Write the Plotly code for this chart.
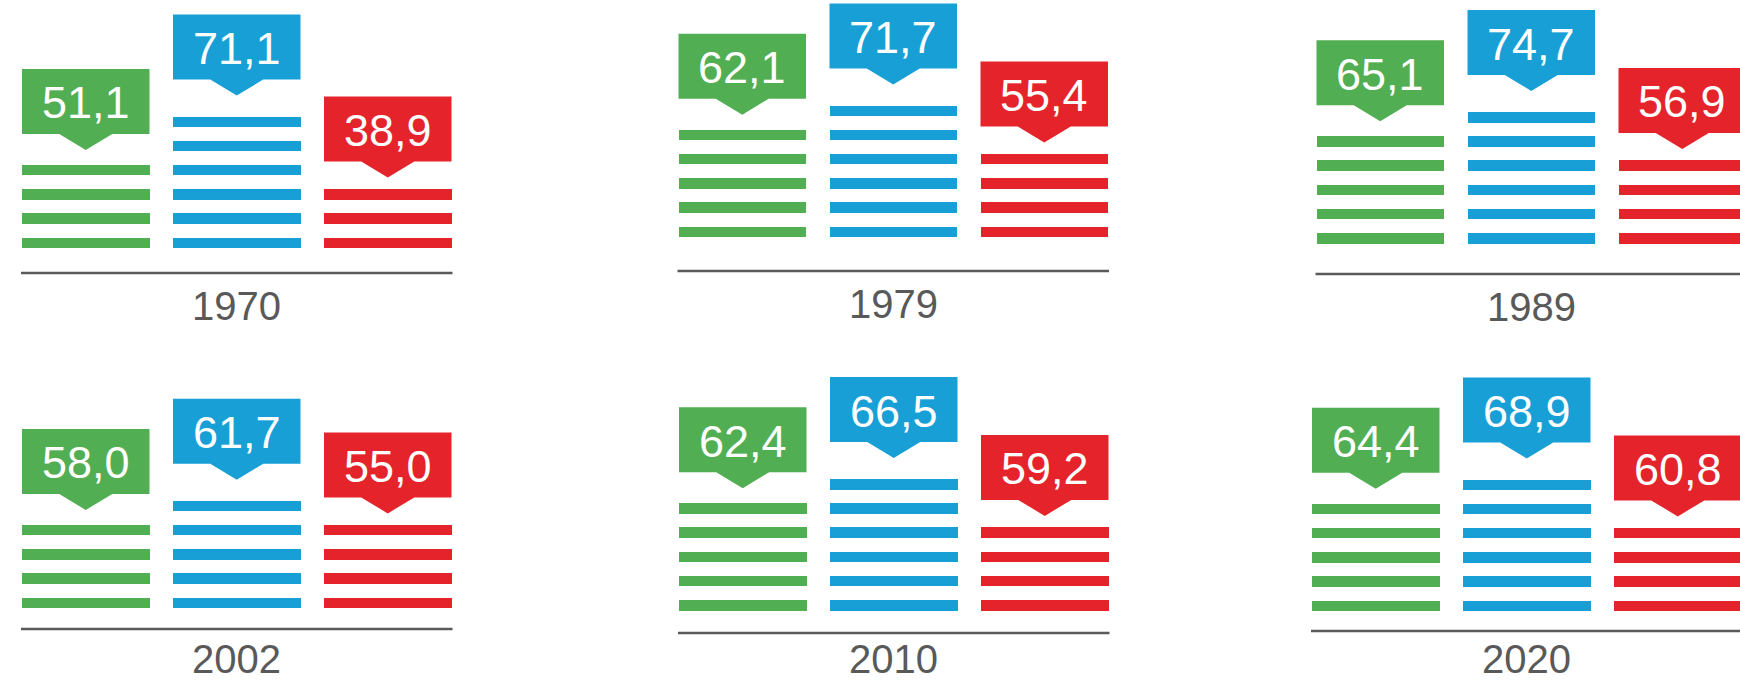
import plotly.graph_objects as go

# Values per year: green, blue, red series
years = ["1970", "1979", "1989", "2002", "2010", "2020"]
green_values = [51.1, 62.1, 65.1, 58.0, 62.4, 64.4]
blue_values = [71.1, 71.7, 74.7, 61.7, 66.5, 68.9]
red_values = [38.9, 55.4, 56.9, 55.0, 59.2, 60.8]

# Number of stripes drawn in each column
green_stripes = [4, 5, 5, 4, 5, 5]
blue_stripes = [6, 6, 6, 5, 6, 6]
red_stripes = [3, 4, 4, 4, 4, 4]

# ---- layout (page pixels) ----
W, H = 1740, 683
# per panel: left edge of first column, bottom of lowest stripe, baseline y
panels = [
    (22.0, 248.0, 273.0),
    (678.5, 237.0, 271.0),
    (1316.5, 243.5, 274.0),
    (22.0, 608.0, 629.0),
    (679.0, 610.5, 633.0),
    (1312.0, 611.0, 631.0),
]
COL_W = 127.5
COL_STEP = 151.0
PITCH = 24.2
THICK = 10.5
BOX_H = 65.0
TIP_H = 16.0
TIP_W = 53.0
YEAR_FONT = 40

series = [
    dict(name="green", values=green_values, stripes=green_stripes, color="#52AE53", gap=15.0),
    dict(name="blue", values=blue_values, stripes=blue_stripes, color="#18A0D6", gap=21.0),
    dict(name="red", values=red_values, stripes=red_stripes, color="#E5232A", gap=11.5),
]

fig = go.Figure()
annotations = []
shapes = []

for si, s in enumerate(series):
    xs, bases, heights = [], [], []
    poly_x, poly_y = [], []
    for pi, (left, bottom, baseline) in enumerate(panels):
        cx = left + si * COL_STEP + COL_W / 2
        n = s["stripes"][pi]
        for k in range(n):
            top = bottom - k * PITCH - THICK
            xs.append(cx)
            bases.append(top)
            heights.append(THICK)
        # callout box with pointer above the top stripe
        top_stripe = bottom - (n - 1) * PITCH - THICK
        tip = top_stripe - s["gap"]
        box_bottom = tip - TIP_H
        box_top = box_bottom - BOX_H
        x0, x1 = cx - COL_W / 2, cx + COL_W / 2
        poly_x += [x0, x1, x1, cx + TIP_W / 2, cx, cx - TIP_W / 2, x0, x0, None]
        poly_y += [box_top, box_top, box_bottom, box_bottom, tip, box_bottom, box_bottom, box_top, None]
        label = f"{s['values'][pi]:.1f}".replace(".", ",")
        annotations.append(dict(
            x=cx, y=(box_top + box_bottom) / 2 + 1.5, xref="x", yref="y",
            text=label, showarrow=False, xanchor="center", yanchor="middle",
            font=dict(family="Liberation Sans, Arial, sans-serif", size=45, color="white"),
        ))
    fig.add_trace(go.Bar(
        x=xs, y=heights, base=bases, width=COL_W,
        marker=dict(color=s["color"], line=dict(width=0)),
        hoverinfo="skip", showlegend=False,
    ))
    fig.add_trace(go.Scatter(
        x=poly_x, y=poly_y, mode="lines", fill="toself",
        fillcolor=s["color"], line=dict(width=0, color=s["color"]),
        hoverinfo="skip", showlegend=False,
    ))

for pi, (left, bottom, baseline) in enumerate(panels):
    right = left + 2 * COL_STEP + COL_W
    shapes.append(dict(
        type="line", xref="x", yref="y", x0=left - 1, x1=right + 1,
        y0=baseline, y1=baseline, line=dict(color="#5A5A5A", width=2.5),
    ))
    # year label under the baseline, kept inside the page at the bottom row
    label_y = min(baseline + 33, H - 0.5)
    anchor = "middle" if baseline + 33 + YEAR_FONT * 0.6 < H else "bottom"
    annotations.append(dict(
        x=(left + right) / 2, y=label_y if anchor == "middle" else H - 0.5,
        xref="x", yref="y",
        text=years[pi], showarrow=False, xanchor="center", yanchor=anchor,
        font=dict(family="Liberation Sans, Arial, sans-serif", size=YEAR_FONT, color="#595959"),
    ))

fig.update_layout(
    width=W, height=H, autosize=False,
    margin=dict(l=0, r=0, t=0, b=0, pad=0),
    paper_bgcolor="white", plot_bgcolor="white",
    barmode="overlay", bargap=0,
    xaxis=dict(range=[0, W], visible=False, fixedrange=True),
    yaxis=dict(range=[H, 0], visible=False, fixedrange=True),
    shapes=shapes, annotations=annotations,
    showlegend=False,
)

fig.write_html("out.html", config={"displayModeBar": False})
